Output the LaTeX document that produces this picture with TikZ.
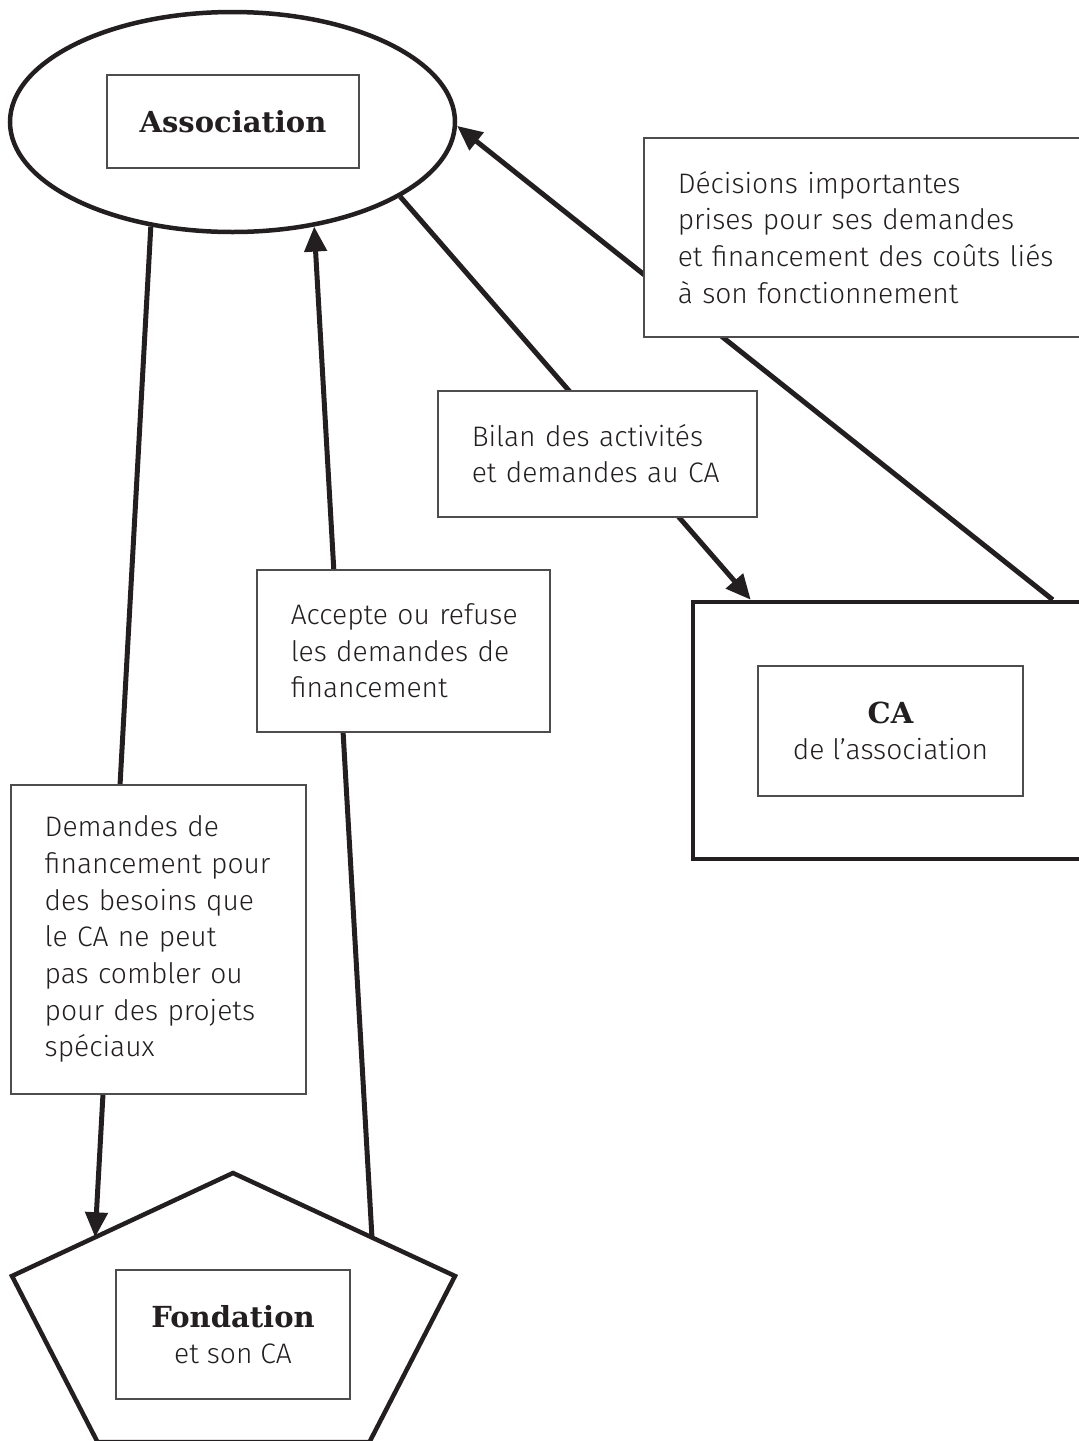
\documentclass[tikz,border=0pt]{standalone}
\usepackage{fontspec}
\setmainfont{Fira Sans Light}
\newfontfamily\slabfont{DejaVu Serif}
\usetikzlibrary{shapes.geometric,arrows.meta,calc}

\definecolor{ink}{RGB}{35,31,32}
\newcommand{\bodytext}{\fontsize{14.1}{18.35}\selectfont}
\newcommand{\headtext}{\slabfont\bfseries\fontsize{14.5}{18}\selectfont}

\tikzset{every picture/.style={line width=0.75pt}}
\tikzset{
  heavy/.style={draw=ink, line width=2.25pt},
  inbox/.style={draw=ink!80, line width=0.75pt, fill=white, text=ink, align=center,
    inner sep=0pt, font=\bodytext},
  note/.style={draw=ink!80, line width=0.75pt, fill=white, text=ink, inner xsep=0pt,
    anchor=north west, font=\bodytext,
    execute at begin node={\parindent=0pt\leftskip=17pt\rightskip=0pt plus 1fil}},
  link/.style={draw=ink, line width=2.5pt, -{Triangle[length=12.5pt,width=11pt]}}
}

\begin{document}
\begin{tikzpicture}[x=0.5pt,y=0.5pt,yscale=-1]
\useasboundingbox (0,0) rectangle (1079,1441);

%Shape: Ellipse [assoc]
\node [heavy, ellipse, minimum width=222.5pt, minimum height=110pt, inner sep=0pt] (assoc) at (232.5,122) {};
\node [inbox, minimum width=126pt, minimum height=46.5pt] (assocbox) at (233,121.5) {\headtext Association};

%Shape: Rectangle [ca]
\node [heavy, rectangle, minimum width=201pt, minimum height=128.5pt, inner sep=0pt] (ca) at (894,730.5) {};
\node [inbox, minimum width=132.5pt, minimum height=65pt] (cabox) at (890.5,731)
  {{\headtext CA}\\de l’association};

%Shape: Pentagon [fond]
\coordinate (ftop) at (233,1173);
\coordinate (fleft) at (12,1276);
\coordinate (fright) at (455,1276);
\coordinate (fbl) at (97.5,1442);
\coordinate (fbr) at (369.5,1442);
\draw [heavy, line join=miter] (ftop) -- (fright) -- (fbr) -- (fbl) -- (fleft) -- cycle;
\node [inbox, minimum width=117pt, minimum height=64.5pt] (fondbox) at (233,1334.5)
  {{\headtext Fondation}\\et son CA};

% connector ends
\coordinate (fin) at ($(ftop)!0.624!(fleft)$);
\coordinate (fout) at ($(ftop)!0.626!(fright)$);
\coordinate (caA) at ([xshift=30pt]ca.north west);
\coordinate (caB) at ([xshift=181pt]ca.north west);

%Straight Lines
\draw [link] (assoc.232) -- (fin);
\draw [link] (fout) -- (assoc.308);
\draw [link] (assoc.336) -- (caA);
\draw [link] (caB) -- (assoc.359);

% Text Node
\node [note, text width=226pt, minimum height=99.5pt] (decisions) at (643,137)
  {Décisions importantes\\prises pour ses demandes\\et financement des coûts liés\\à son fonctionnement};
% Text Node
\node [note, text width=159.5pt, minimum height=63pt] (bilan) at (437,390)
  {Bilan des activités\\et demandes au CA};
% Text Node
\node [note, text width=146.5pt, minimum height=81pt] (accepte) at (256,569)
  {Accepte ou refuse\\les demandes de\\financement};
% Text Node
\node [note, text width=147.5pt, minimum height=154.5pt] (demandes) at (10,784)
  {Demandes de\\financement pour\\des besoins que\\le CA ne peut\\pas combler ou\\pour des projets\\spéciaux};

\end{tikzpicture}
\end{document}
